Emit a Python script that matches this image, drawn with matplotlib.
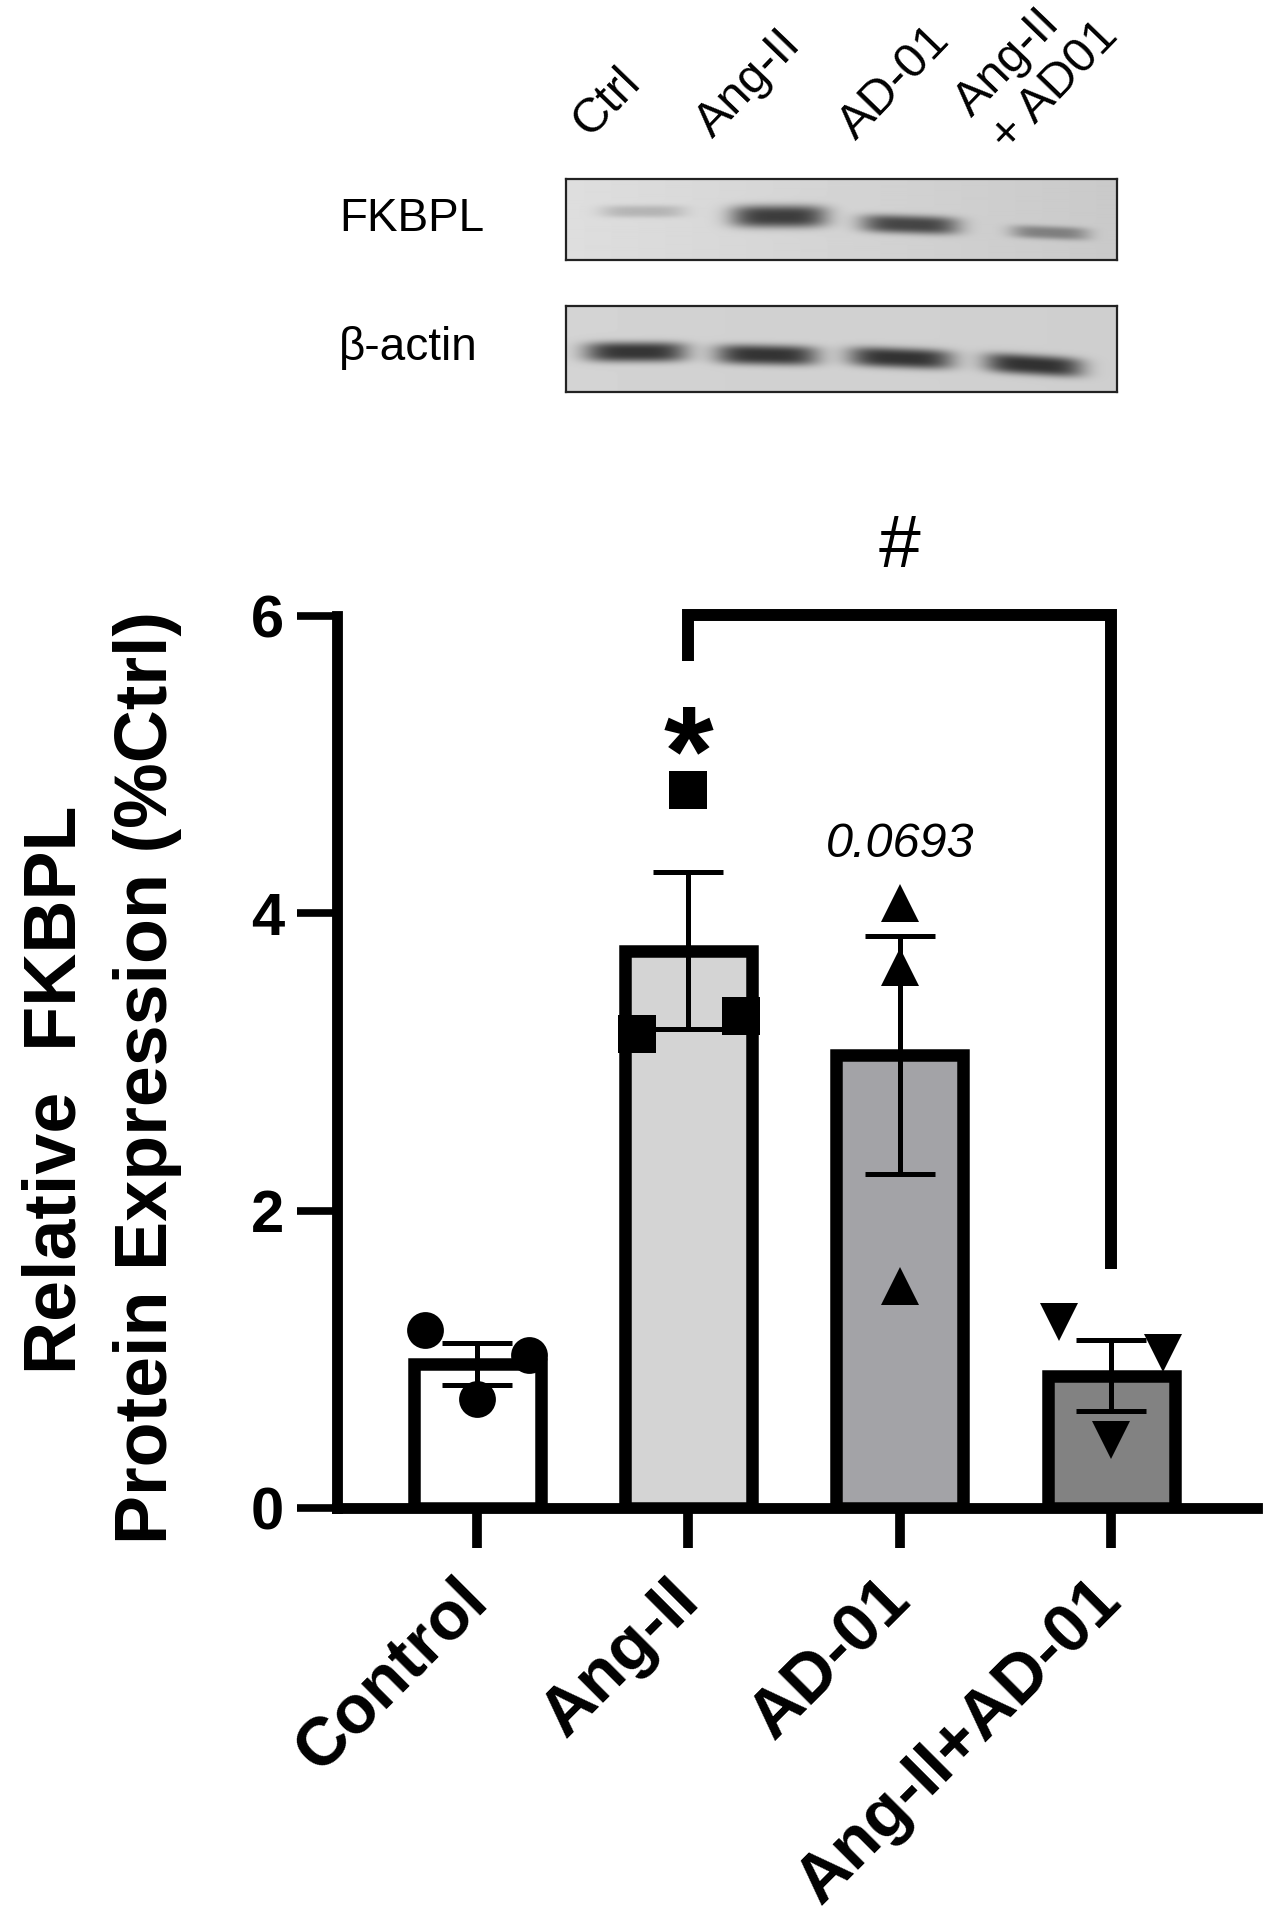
import numpy as np
import matplotlib
matplotlib.use("Agg")
import matplotlib.pyplot as plt

# ---------------- data ----------------
categories = ["Control", "Ang-II", "AD-01", "Ang-II+AD-01"]
means = [0.97, 3.75, 3.05, 0.89]
sems = [0.14, 0.53, 0.80, 0.24]
control_pts = [1.20, 0.73, 1.03]
angii_pts = [3.19, 4.83, 3.31]
ad01_pts = [4.07, 3.64, 1.49]
combo_pts = [1.25, 0.46, 1.04]
yticks = [0, 2, 4, 6]
pval_text = "0.0693"

lane_labels = ["Ctrl", "Ang-II", "AD-01", "Ang-II\n+ AD01"]
fkbpl_band = [0.15, 0.60, 0.55, 0.30]
actin_band = [0.62, 0.62, 0.62, 0.62]

# ---------------- figure ----------------
W, H = 1276, 1920
fig = plt.figure(figsize=(W / 100, H / 100), dpi=100)
FONT = "Liberation Sans"


def fx(px):
    return px / W


def fy(py):
    return 1 - py / H


# ---------------- western blot panel ----------------
def blot_axes(x0, y0, x1, y1, bg_left, bg_right, strengths, cx, hw, cy, hh, tilt):
    ax = fig.add_axes([fx(x0), fy(y1), (x1 - x0) / W, (y1 - y0) / H])
    xs = np.arange(x0, x1) + 0.5
    ys = np.arange(y0, y1) + 0.5
    X, Y = np.meshgrid(xs, ys)
    img = bg_left + (bg_right - bg_left) * (X - x0) / (x1 - x0)
    for s, c, w, yc, h, t in zip(strengths, cx, hw, cy, hh, tilt):
        yy = yc + t * (X - c) / w
        img = img - s * np.exp(-np.abs((X - c) / w) ** 4) * np.exp(-np.abs((Y - yy) / h) ** 3)
    ax.imshow(img, cmap="gray", vmin=0, vmax=1, aspect="auto",
              extent=[x0, x1, y1, y0], interpolation="bilinear")
    ax.set_xticks([])
    ax.set_yticks([])
    for sp in ax.spines.values():
        sp.set_linewidth(1.6)
        sp.set_color("#222222")
    return ax


blot_axes(566, 179, 1117, 260, 0.87, 0.79, fkbpl_band,
          [643, 779, 910, 1050], [42, 48, 49, 39], [212, 217, 225, 233],
          [6, 11, 9, 6.5], [0, 0, 1.5, 1.5])
blot_axes(566, 306, 1117, 392, 0.83, 0.81, actin_band,
          [636, 767, 901, 1034], [51, 51, 52, 49], [352, 355, 358, 365],
          [10, 10, 10, 10], [0, 1, 2, 3])

fig.text(fx(339), fy(231), "FKBPL", fontsize=33, family=FONT, ha="left", va="baseline")
fig.text(fx(339), fy(360), "β-actin", fontsize=33, family=FONT, ha="left", va="baseline")

lane_anchor = [(590, 138), (713, 139), (856, 141)]
for lab, (lx, ly) in zip(lane_labels[:3], lane_anchor):
    fig.text(fx(lx), fy(ly), lab, fontsize=35, family=FONT, rotation=46,
             rotation_mode="anchor", ha="left", va="baseline")
l1, l2 = lane_labels[3].split("\n")
fig.text(fx(972), fy(118), l1, fontsize=35, family=FONT, rotation=46,
         rotation_mode="anchor", ha="left", va="baseline")
fig.text(fx(1008), fy(153), l2, fontsize=35, family=FONT, rotation=46,
         rotation_mode="anchor", ha="left", va="baseline")

# ---------------- bar chart ----------------
ax = fig.add_axes([fx(337), fy(1508), (1257 - 337) / W, (1508 - 616) / H])
x = np.arange(len(categories))
colors = ["#ffffff", "#d4d4d4", "#a3a3a7", "#828282"]

ax.bar(x, means, width=0.6, color=colors, edgecolor="black", linewidth=9, zorder=2)
ax.errorbar(x, means, yerr=sems, fmt="none", ecolor="black", elinewidth=3.6,
            capsize=25, capthick=3.6, zorder=3)

groups = [control_pts, angii_pts, ad01_pts, combo_pts]
markers = ["o", "s", "^", "v"]
msizes = [26.5, 27.5, 27, 27]
jitters = [[-0.245, 0, 0.245], [-0.245, 0, 0.25], [0, 0, 0], [-0.245, 0, 0.245]]
for i, (pts, m, ms, jit) in enumerate(zip(groups, markers, msizes, jitters)):
    for v, j in zip(pts, jit):
        ax.plot(i + j, v, marker=m, color="black", markersize=ms, markeredgewidth=0,
                linestyle="none", zorder=4, clip_on=False)

ax.set_xlim(-0.663, 3.69)
ax.set_ylim(0, 6)
ax.spines["top"].set_visible(False)
ax.spines["right"].set_visible(False)
for s in ("left", "bottom"):
    ax.spines[s].set_linewidth(7.8)
    ax.spines[s].set_capstyle("projecting")
    ax.spines[s].set_zorder(5)

ax.set_yticks(yticks)
ax.set_yticklabels([str(t) for t in yticks], fontsize=43, fontweight="bold", family=FONT)
ax.tick_params(axis="y", length=29, width=5.5, pad=9)
ax.set_xticks(x)
ax.set_xticklabels(categories, rotation=45, ha="right", va="center",
                   rotation_mode="anchor", fontsize=49, fontweight="bold", family=FONT)
ax.tick_params(axis="x", length=29, width=7, pad=30)

# significance bracket and annotations
ax.plot([1, 1, 3, 3], [5.70, 6.01, 6.01, 1.61], color="black", lw=8.6,
        solid_joinstyle="miter", solid_capstyle="butt", clip_on=False, zorder=4)
ax.text(2, 6.33, "#", fontsize=54, family=FONT, ha="center", va="baseline")
ax.text(1, 4.80, "*", fontsize=92, family=FONT, fontweight="bold",
        ha="center", va="baseline")
ax.text(2, 4.38, pval_text, fontsize=35, family=FONT, style="italic",
        ha="center", va="baseline")

# y-axis label (two lines)
fig.text(fx(76), fy(1090), "Relative  FKBPL", fontsize=53, fontweight="bold",
         family=FONT, rotation=90, rotation_mode="anchor", ha="center", va="baseline")
fig.text(fx(167), fy(1077), "Protein Expression (%Ctrl)", fontsize=53,
         fontweight="bold", family=FONT, rotation=90, rotation_mode="anchor",
         ha="center", va="baseline")

fig.savefig("out.png", dpi=100, facecolor="white")
